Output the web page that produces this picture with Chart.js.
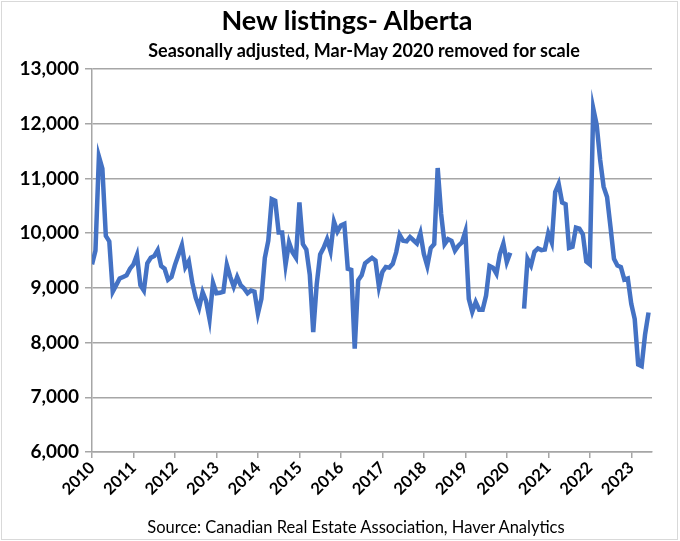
<!DOCTYPE html>
<html>
<head>
<meta charset="utf-8">
<script src="https://cdn.jsdelivr.net/npm/chart.js@4.4.1/dist/chart.umd.min.js"></script>
<style>
  html, body { margin: 0; padding: 0; background: #fff; }
  #wrap { position: relative; width: 680px; height: 541px; }
  #frame { position: absolute; left: 1px; top: 1px; width: 675px; height: 537px; border: 1px solid #d9d9d9; pointer-events: none; }
  .txt { position: absolute; width: 680px; text-align: center; font-family: Lato, sans-serif; color: #000; white-space: nowrap; }
  #title { left: 7px; top: 3px; font-size: 27px; font-weight: bold; }
  #subtitle { left: 24px; top: 39px; font-size: 18px; font-weight: bold; }
  #source { left: 16px; top: 517px; font-size: 16.5px; }
</style>
</head>
<body>
<div id="wrap">
  <canvas id="listingsChart" width="680" height="541"></canvas>
  <div id="frame"></div>
  <div class="txt" id="title">New listings- Alberta</div>
  <div class="txt" id="subtitle">Seasonally adjusted, Mar-May 2020 removed for scale</div>
  <div class="txt" id="source">Source: Canadian Real Estate Association, Haver Analytics</div>
</div>
<script>
// monthly new listings, Alberta, SA (Mar-May 2020 left out)
const startYear = 2010;
const y2010 = [9430, 9680, 11400, 11180, 9950, 9850, 8930, 9050, 9170, 9200, 9230, 9350];
const y2011 = [9430, 9600, 9050, 8950, 9450, 9550, 9580, 9690, 9400, 9350, 9150, 9200];
const y2012 = [9420, 9600, 9780, 9380, 9490, 9100, 8820, 8640, 8920, 8760, 8430, 9090];
const y2013 = [8900, 8910, 8930, 9420, 9200, 9020, 9200, 9050, 8990, 8900, 8950, 8930];
const y2014 = [8530, 8800, 9550, 9860, 10620, 10590, 10010, 10010, 9420, 9830, 9650, 9550];
const y2015 = [10560, 9800, 9700, 9240, 8190, 9060, 9610, 9730, 9890, 9670, 10210, 10030];
const y2016 = [10140, 10170, 9350, 9330, 7890, 9140, 9230, 9450, 9500, 9550, 9500, 9020];
const y2017 = [9290, 9380, 9370, 9440, 9650, 9970, 9860, 9850, 9930, 9870, 9810, 10000];
const y2018 = [9620, 9400, 9730, 9800, 11190, 10350, 9800, 9890, 9860, 9680, 9770, 9830];
const y2019 = [10030, 8800, 8560, 8740, 8600, 8600, 8860, 9400, 9370, 9260, 9620, 9810];
const y2020 = [9470, 9640, null, null, null, 8620, 9530, 9410, 9660, 9720, 9690, 9700];
const y2021 = [10000, 9830, 10750, 10900, 10560, 10530, 9730, 9750, 10100, 10080, 9980, 9480];
const y2022 = [9430, 12280, 11980, 11340, 10850, 10660, 10110, 9530, 9410, 9380, 9150, 9170];
const y2023 = [8710, 8430, 7600, 7570, 8150, 8550];

const yTicks = [6000, 7000, 8000, 9000, 10000, 11000, 12000, 13000];
const yearLabels = ["2010", "2011", "2012", "2013", "2014", "2015", "2016",
                    "2017", "2018", "2019", "2020", "2021", "2022", "2023"];

const monthly = [].concat(y2010, y2011, y2012, y2013, y2014, y2015, y2016,
                          y2017, y2018, y2019, y2020, y2021, y2022, y2023);
const points = monthly.map((v, i) => ({ x: i, y: v }));

const ctx = document.getElementById("listingsChart");

const myChart = new Chart(ctx, {
  type: "line",
  data: {
    datasets: [
      {
        label: "New listings",
        data: points,
        borderColor: "#4472C4",
        borderWidth: 4.5,
        pointRadius: 0,
        tension: 0,
        spanGaps: false,
      },
    ],
  },
  options: {
    responsive: false,
    animation: false,
    layout: { padding: { left: 8, right: 28, top: 69, bottom: 30 } },
    plugins: {
      legend: { display: false },
      tooltip: { enabled: false },
    },
    scales: {
      x: {
        type: "linear",
        min: 0,
        max: 162,
        grid: { drawOnChartArea: false, drawTicks: true, tickLength: 6, color: "#a6a6a6", lineWidth: 1.5 },
        border: { color: "#a6a6a6", width: 1.5 },
        ticks: {
          stepSize: 12,
          includeBounds: false,
          autoSkip: false,
          maxRotation: 45,
          minRotation: 45,
          color: "#000",
          font: { family: "Lato", size: 16.5, weight: "bold" },
          padding: 0,
          callback: (v) => yearLabels[v / 12] || "",
        },
        afterFit: (scale) => { scale.height = 59; },
      },
      y: {
        min: 6000,
        max: 13000,
        grid: { color: "#a6a6a6", lineWidth: 1.5, tickLength: 7 },
        border: { color: "#a6a6a6", width: 1.5 },
        afterBuildTicks: (scale) => { scale.ticks = yTicks.map((v) => ({ value: v })); },
        ticks: {
          color: "#000",
          font: { family: "Lato", size: 19, weight: "bold" },
          padding: 6,
          callback: (v) => v.toLocaleString("en-US"),
        },
        afterFit: (scale) => { scale.width = 84; },
      },
    },
  },
});
</script>
</body>
</html>
